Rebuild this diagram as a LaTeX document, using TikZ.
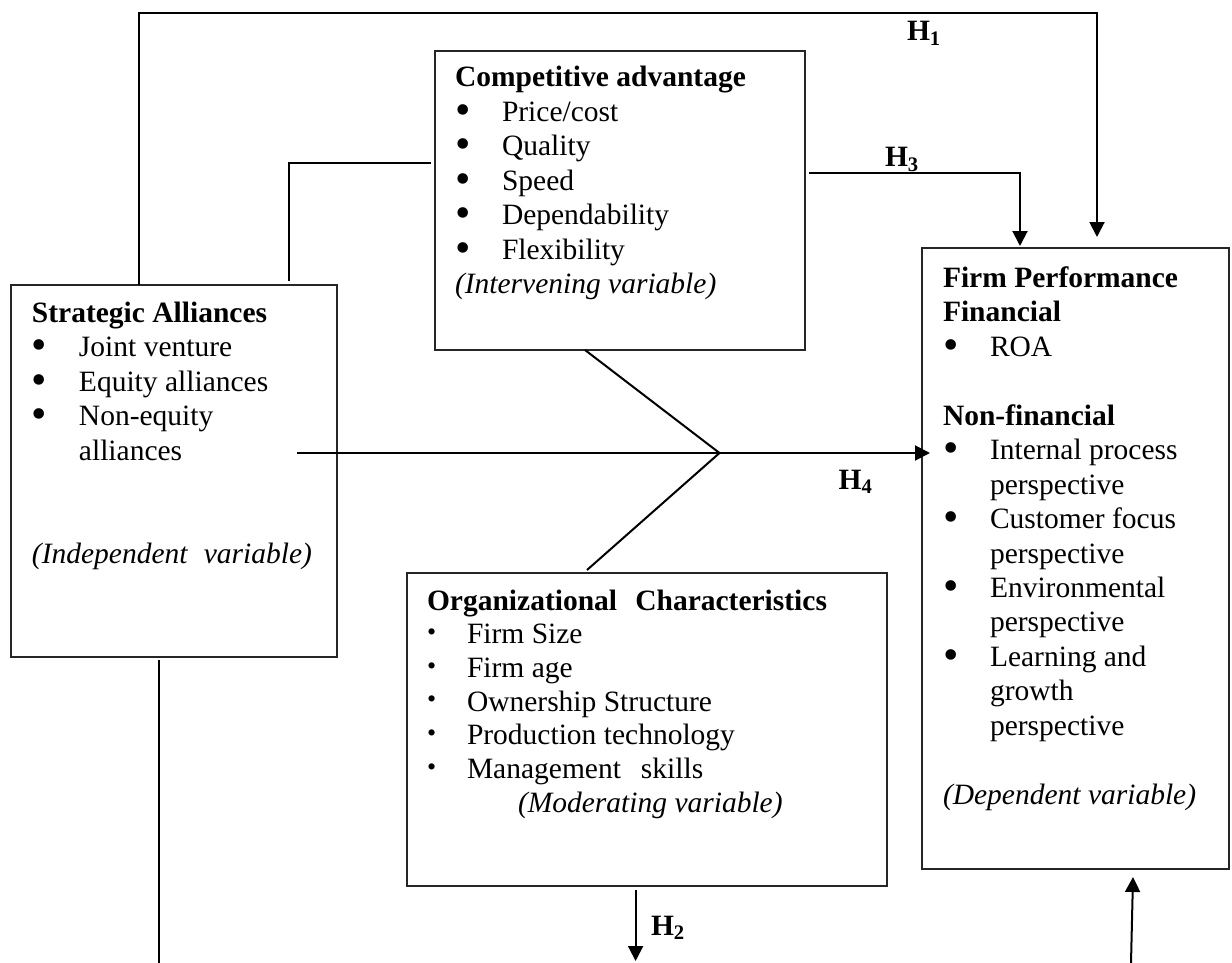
\documentclass[tikz,border=0pt]{standalone}
\usepackage{fontspec}
\setmainfont{Liberation Serif}
\usepackage{graphicx}
\usetikzlibrary{arrows.meta}
\newcommand{\bigbul}{\smash{\raisebox{-1.5pt}{\fontsize{22}{22}\selectfont\textbullet}}}
\newcommand{\bl}[1]{\makebox[23.5pt][l]{\bigbul}#1}
\newcommand{\ind}[1]{\hspace*{23.5pt}#1}
\newcommand{\sbl}[1]{\makebox[20pt][l]{\smash{\raisebox{1.6pt}{\fontsize{13}{13}\selectfont\textbullet}}}#1}
\tikzset{
  box/.style={draw=black!85, line width=0.7pt, inner sep=0pt, outer sep=0pt},
  conn/.style={line width=1pt},
  arr/.style={-{Triangle[length=7.5pt,width=7.5pt]}},
  txt/.style={anchor=base west, inner sep=0pt, outer sep=0pt, font=\fontsize{14.75}{17.25}\selectfont},
  lbl/.style={anchor=base west, inner sep=0pt, outer sep=0pt, font=\fontsize{14.75}{17.25}\selectfont\bfseries}
}
\begin{document}
\begin{tikzpicture}[x=0.5pt,y=-0.5pt]
\useasboundingbox (0,0) rectangle (1232,963);
% boxes
\node[box, minimum width=163pt, minimum height=186pt] (sa) at (174,471) {};
\node[box, minimum width=185pt, minimum height=149.5pt] (ca) at (620,200.5) {};
\node[box, minimum width=153.5pt, minimum height=310.5pt] (fp) at (1075.5,558.5) {};
\node[box, minimum width=240pt, minimum height=156.5pt] (oc) at (647,729.5) {};
% texts
\node[txt] (satext) at (32,322) {\begin{tabular}[t]{@{}l@{}}
\textbf{Strategic Alliances}\\
\bl{Joint venture}\\
\bl{Equity alliances}\\
\bl{Non-equity}\\
\ind{alliances}\\
\\
\\
\hbox to 140pt{\itshape (Independent\hfill variable)}
\end{tabular}};
\node[txt] (catext) at (455,87) {\begin{tabular}[t]{@{}l@{}}
\textbf{Competitive advantage}\\
\bl{Price/cost}\\
\bl{Quality}\\
\bl{Speed}\\
\bl{Dependability}\\
\bl{Flexibility}\\
\textit{(Intervening variable)}
\end{tabular}};
\node[txt] (fptext) at (943,287) {\begin{tabular}[t]{@{}l@{}}
\textbf{Firm Performance}\\
\textbf{Financial}\\
\bl{ROA}\\
\\
\textbf{Non-financial}\\
\bl{Internal process}\\
\ind{perspective}\\
\bl{Customer focus}\\
\ind{perspective}\\
\bl{Environmental}\\
\ind{perspective}\\
\bl{Learning and}\\
\ind{growth}\\
\ind{perspective}\\
\\
\textit{(Dependent variable)}
\end{tabular}};
\node[txt, font=\fontsize{14.75}{16.85}\selectfont] (octext) at (427,610) {\begin{tabular}[t]{@{}l@{}}
\hbox to 200pt{\bfseries Organizational\hfill Characteristics}\\
\sbl{Firm Size}\\
\sbl{Firm age}\\
\sbl{Ownership Structure}\\
\sbl{Production technology}\\
\sbl{Management\hspace{10pt}skills}\\
\hspace*{45.5pt}\textit{(Moderating variable)}
\end{tabular}};
% hypothesis labels
\node[lbl] (h1) at (907,41) {H\textsubscript{1}};
\node[lbl] (h3) at (885,167) {H\textsubscript{3}};
\node[lbl] (h4) at (838.6,489) {H\textsubscript{4}};
\node[lbl] (h2) at (651,935) {H\textsubscript{2}};
% coordinates
\coordinate (h1l) at (139,13);
\coordinate (h1r) at (1097,13);
\coordinate (c2) at (289,163);
\coordinate (h3c) at (1020,173);
\coordinate (h4s) at (297,453);
\coordinate (j) at (719.5,453);
\coordinate (d1) at (585,350);
\coordinate (d2) at (587,570);
\coordinate (sab) at (159,963);
\coordinate (h2e) at (635.6,961);
\coordinate (rb) at (1131,963);
\coordinate (rt) at (1133,877);
% connectors
\draw[conn, arr] (h1l |- sa.north) -- (h1l) -- (h1r) -- ([yshift=5.5pt]h1r |- fp.north);
\draw[conn] ([yshift=2pt]c2 |- sa.north) -- (c2) -- ([xshift=-2pt]ca.west |- c2);
\draw[conn, arr] ([xshift=2pt]ca.east |- h3c) -- (h3c) -- ([yshift=1pt]h3c |- fp.north);
\draw[conn, arr] (h4s) -- (j) -- ([xshift=4pt]fp.west |- j);
\draw[conn] (d1) -- (j) -- (d2);
\draw[conn] ([yshift=-1.5pt]sab |- sa.south) -- (sab);
\draw[conn, arr] ([yshift=-2pt]h2e |- oc.south) -- (h2e);
\draw[conn, arr] (rb) -- (rt);
\end{tikzpicture}
\end{document}
